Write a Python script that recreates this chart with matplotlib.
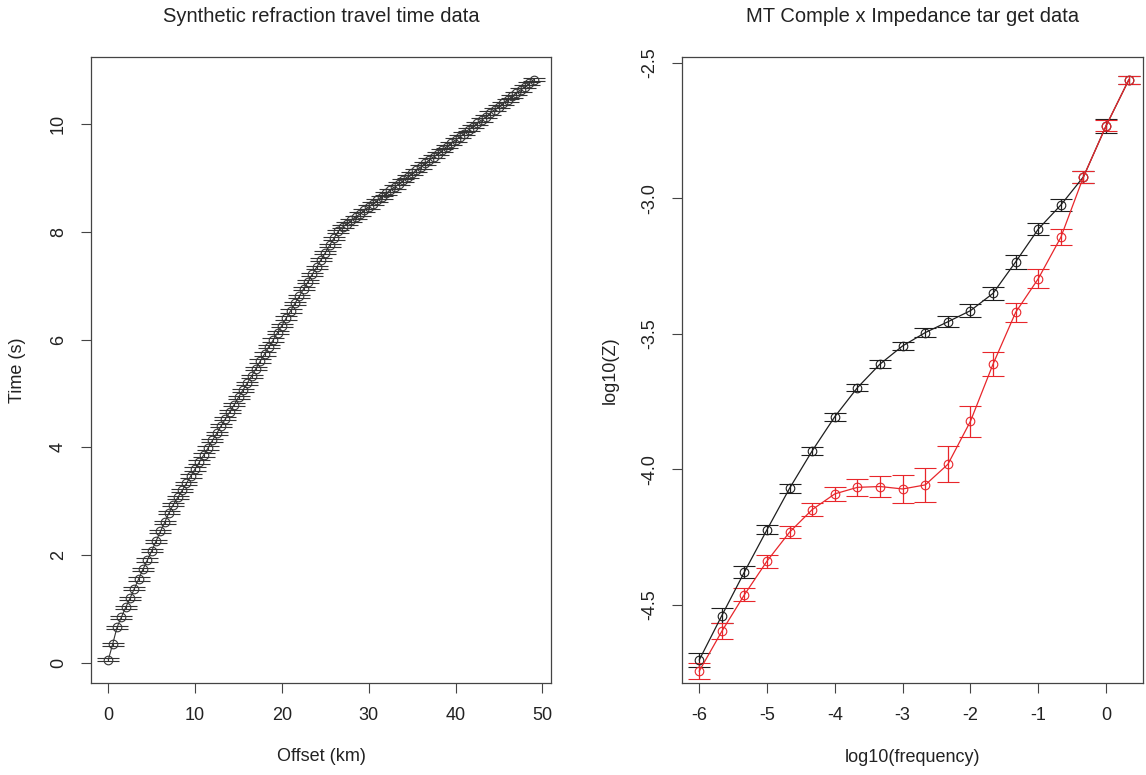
import numpy as np
import matplotlib.pyplot as plt

plt.rcParams['font.family'] = ['Liberation Sans', 'DejaVu Sans']
plt.rcParams['axes.unicode_minus'] = False

# Left panel: refraction travel times (offset every 0.5 km)
offset = np.arange(99) * 0.5
time = [0.06, 0.35, 0.66, 0.85, 1.03, 1.20, 1.38, 1.56, 1.74, 1.91,
        2.08, 2.26, 2.44, 2.61, 2.79, 2.94, 3.07, 3.20, 3.33, 3.47,
        3.60, 3.73, 3.86, 3.99, 4.13, 4.26, 4.40, 4.53, 4.66, 4.79,
        4.93, 5.06, 5.19, 5.32, 5.46, 5.60, 5.73, 5.87, 5.99, 6.13,
        6.26, 6.40, 6.53, 6.67, 6.80, 6.94, 7.07, 7.21, 7.34, 7.48,
        7.61, 7.75, 7.88, 8.01, 8.09, 8.15, 8.21, 8.27, 8.33, 8.40,
        8.46, 8.52, 8.58, 8.64, 8.71, 8.77, 8.83, 8.89, 8.95, 9.02,
        9.08, 9.14, 9.20, 9.27, 9.33, 9.39, 9.45, 9.51, 9.58, 9.64,
        9.70, 9.76, 9.82, 9.89, 9.95, 10.01, 10.07, 10.13, 10.20, 10.26,
        10.32, 10.38, 10.44, 10.51, 10.57, 10.63, 10.69, 10.75, 10.82]
time_err = 0.03

# Right panel: MT impedance, two components
logf = [-6 + k / 3 for k in range(20)]
z_black = [-4.703, -4.539, -4.378, -4.222, -4.069, -3.931, -3.805, -3.698, -3.611, -3.544,
           -3.495, -3.455, -3.414, -3.350, -3.234, -3.113, -3.024, -2.920, -2.732, -2.563]
z_black_err = [0.027, 0.026, 0.021, 0.018, 0.017, 0.014, 0.015, 0.014, 0.015, 0.016,
               0.017, 0.020, 0.023, 0.023, 0.025, 0.023, 0.023, 0.023, 0.025, 0.016]
z_red = [-4.744, -4.597, -4.462, -4.338, -4.231, -4.148, -4.090, -4.066, -4.063, -4.072,
         -4.057, -3.981, -3.822, -3.611, -3.420, -3.296, -3.143, -2.920, -2.732, -2.563]
z_red_err = [0.030, 0.030, 0.025, 0.024, 0.023, 0.023, 0.026, 0.031, 0.039, 0.052,
             0.063, 0.067, 0.058, 0.043, 0.036, 0.034, 0.030, 0.023, 0.020, 0.016]

txt = '#222222'
W, H = 1146, 775
fig = plt.figure(figsize=(W / 100, H / 100), dpi=100)
ax1 = fig.add_axes([91.3 / W, 1 - 682.7 / H, 459.7 / W, 625.7 / H])
ax2 = fig.add_axes([682.3 / W, 1 - 683 / H, 460.4 / W, 626 / H])

ax1.errorbar(offset, time, yerr=time_err, fmt='o-', color='#333333', mfc='none',
             mec='#333333', ms=6.2, mew=0.8, lw=0.8, elinewidth=0.8,
             capsize=7.8, capthick=1.0)
ax1.set_xlim(-1.96, 51.0)
ax1.set_ylim(-0.365, 11.24)
ax1.set_xticks([0, 10, 20, 30, 40, 50])
ax1.set_yticks([0, 2, 4, 6, 8, 10])

ax2.errorbar(logf, z_black, yerr=z_black_err, fmt='o-', color='#1e1e1e', mfc='none',
             mec='#1e1e1e', ms=6.2, mew=0.8, lw=0.9, elinewidth=0.9,
             capsize=7.8, capthick=1.0)
ax2.errorbar(logf, z_red, yerr=z_red_err, fmt='o-', color='#e8262b', mfc='none',
             mec='#e8262b', ms=6.2, mew=0.8, lw=0.9, elinewidth=0.9,
             capsize=7.8, capthick=1.0)
ax2.set_xlim(-6.25, 0.54)
ax2.set_ylim(-4.788, -2.478)
ax2.set_xticks([-6, -5, -4, -3, -2, -1, 0])
ax2.set_yticks([-2.5, -3.0, -3.5, -4.0, -4.5])
ax2.set_yticklabels(['-2.5', '-3.0', '-3.5', '-4.0', '-4.5'])

panels = [
    (ax1, 'Synthetic refraction travel time data', 'Offset (km)', 'Time (s)', 459.7, 625.7),
    (ax2, 'MT Comple x Impedance tar get data', 'log10(frequency)', 'log10(Z)', 460.4, 626),
]
for ax, title, xl, yl, aw, ah in panels:
    for s in ax.spines.values():
        s.set_color('#444444')
        s.set_linewidth(0.9)
    ax.tick_params(direction='out', length=7.5, width=0.8, pad=10,
                   labelsize=13, colors='#444444', labelcolor=txt)
    plt.setp(ax.get_yticklabels(), rotation=90, va='center')
    ax.set_title(title, fontsize=14.5, color=txt, y=1 + 41 / ah, va='center', pad=0)
    ax.set_xlabel(xl, fontsize=13, color=txt)
    ax.set_ylabel(yl, fontsize=13, color=txt)
    ax.xaxis.label.set_va('center')
    ax.yaxis.label.set_va('center')
    ax.xaxis.set_label_coords(0.5, -74 / ah)

ax1.yaxis.set_label_coords((18 - 91.3) / 459.7, 0.5)
ax2.yaxis.set_label_coords((610 - 682.3) / 460.4, 0.5)

fig.savefig('out.png', dpi=100)
